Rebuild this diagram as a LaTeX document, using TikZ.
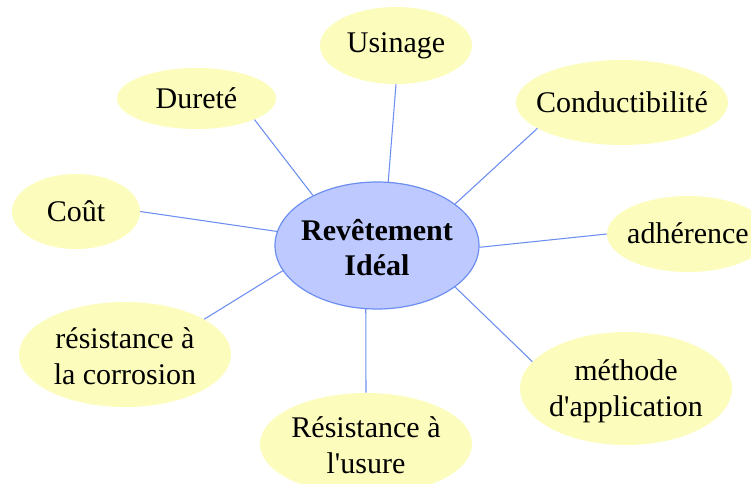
\documentclass[tikz,border=0pt]{standalone}
\usepackage{fontspec}
\setmainfont{Liberation Serif}
\usetikzlibrary{shapes.geometric}
\definecolor{bubblefill}{RGB}{252,252,188}
\definecolor{hubfill}{RGB}{190,202,255}
\definecolor{hubline}{RGB}{108,142,240}
\begin{document}
\begin{tikzpicture}[x=0.75pt,y=-0.75pt,
  bubble/.style={ellipse,fill=bubblefill,inner sep=0pt},
  hub/.style={ellipse,fill=hubfill,draw=hubline,line width=0.9pt,inner sep=0pt},
  lbl/.style={align=center,font=\fontsize{22.5}{27}\selectfont,inner sep=0pt},
  link/.style={draw=hubline,line width=0.8pt}]
\useasboundingbox (0,0) rectangle (751,483);
\clip (0,0) rectangle (751,483);

% central concept
\node[hub,minimum width=153pt,minimum height=95.25pt] (main) at (377,245.5) {};
\node[lbl,font=\fontsize{22.5}{26.25}\selectfont\bfseries] (main-t) at (377,248) {Revêtement\\Idéal};

% surrounding properties
\node[bubble,minimum width=114pt,minimum height=57.75pt] (usin) at (396,45.5) {};
\node[lbl] (usin-t) at (396,46) {Usinage};

\node[bubble,minimum width=119.25pt,minimum height=45.75pt] (dur) at (196.5,98.5) {};
\node[lbl] (dur-t) at (196.5,98) {Dureté};

\node[bubble,minimum width=159pt,minimum height=63.75pt] (cond) at (622,102.5) {};
\node[lbl] (cond-t) at (622,102) {Conductibilité};

\node[bubble,minimum width=96pt,minimum height=56.25pt] (cout) at (76,211.5) {};
\node[lbl] (cout-t) at (76,211) {Coût};

\node[bubble,minimum width=121.5pt,minimum height=57pt] (adh) at (688,234) {};
\node[lbl] (adh-t) at (688,233) {adhérence};

\node[bubble,minimum width=159pt,minimum height=78.75pt] (corr) at (125,354.5) {};
\node[lbl] (corr-t) at (125,356) {résistance à\\la corrosion};

\node[bubble,minimum width=159pt,minimum height=76.5pt] (usure) at (366,444) {};
\node[lbl] (usure-t) at (366,445) {Résistance à\\l\textquotesingle usure};

\node[bubble,minimum width=159pt,minimum height=84.75pt] (meth) at (626,388.5) {};
\node[lbl] (meth-t) at (626,391) {méthode\\d\textquotesingle application};

% links from the hub to each property
\draw[link] (main.142.8) -- (dur.340.5);
\draw[link] (main.80.2)  -- (usin.270);
\draw[link] (main.28.3)  -- (cond.197.3);
\draw[link] (main.172.9) -- (cout.0);
\draw[link] (main.-1.4)  -- (adh.180);
\draw[link] (main.195.7) -- (corr.24.6);
\draw[link] (main.260.2) -- (usure.90);
\draw[link] (main.332.6) -- (meth.164.4);
\end{tikzpicture}
\end{document}
